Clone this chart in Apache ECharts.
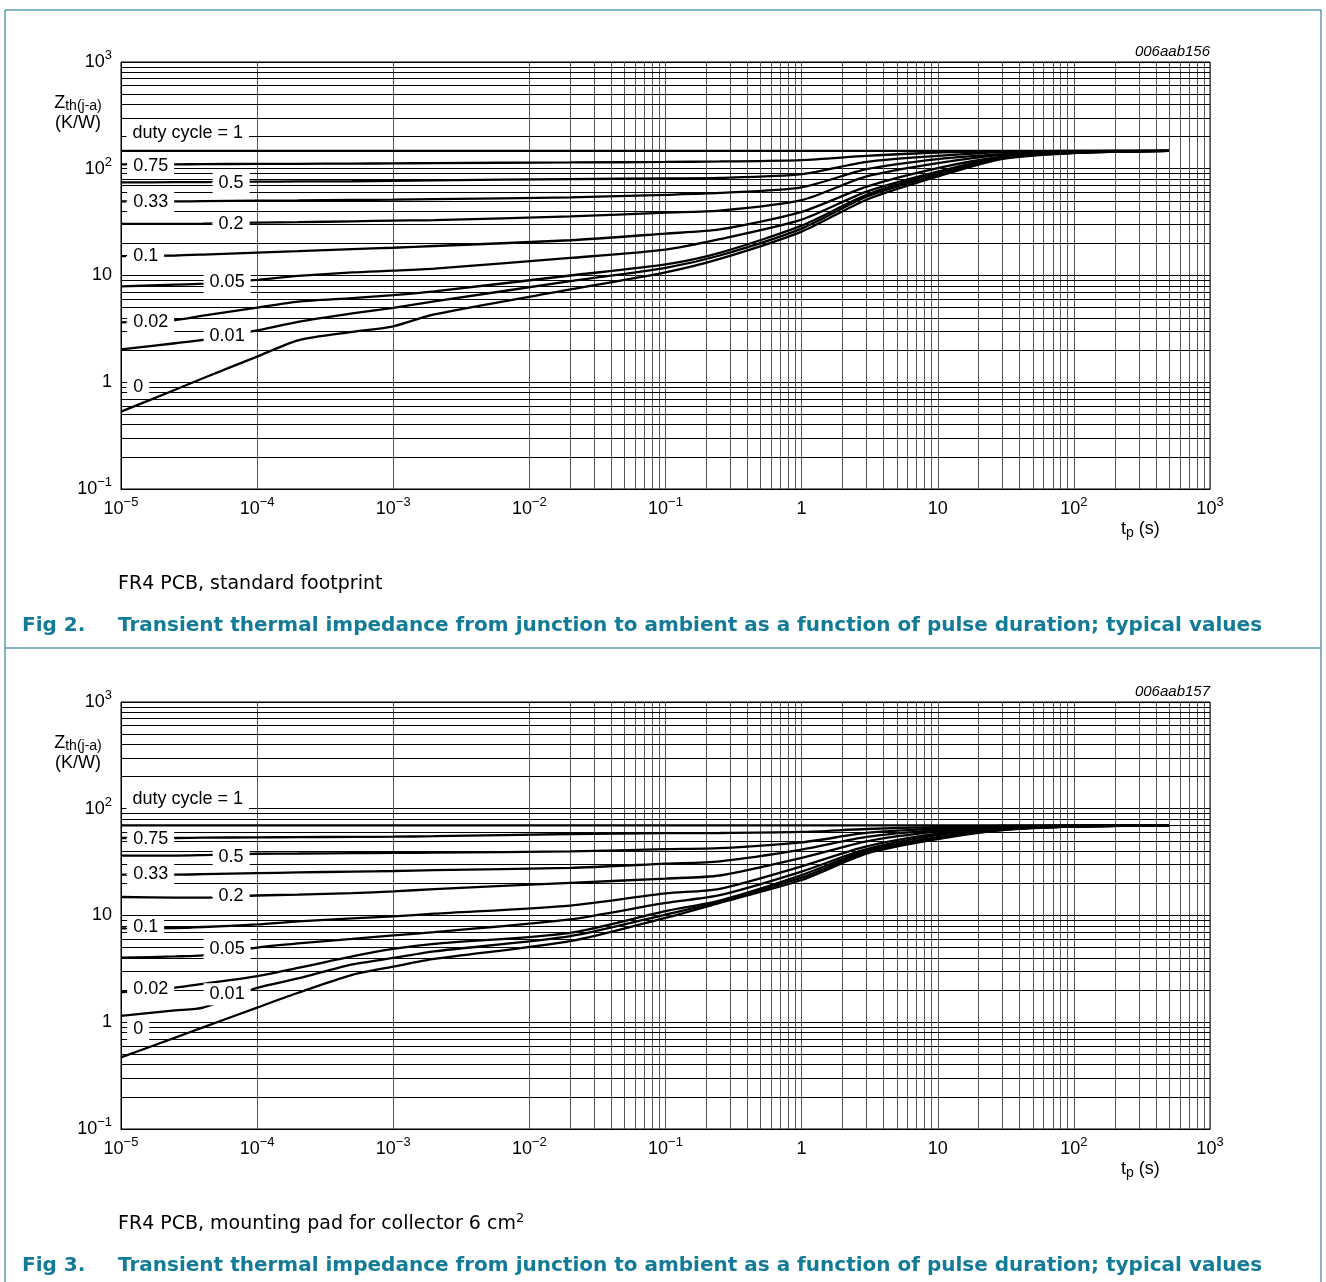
<!DOCTYPE html>
<html>
<head>
<meta charset="utf-8">
<title>Transient thermal impedance</title>
<script src="https://cdn.jsdelivr.net/npm/echarts@6/dist/echarts.min.js"></script>
<style>
  html, body { margin: 0; padding: 0; background: #fff; }
  #main { width: 1326px; height: 1282px; }
</style>
</head>
<body>
<div id="main"></div>
<script>
// pulse duration tp (s) where the curves were read
var tp = [1e-5, 2.5e-5, 4e-5, 1e-4, 2e-4, 5e-4, 1e-3, 2e-3, 2e-2, 1e-1, 0.25, 1, 3, 10, 30, 100, 500];

var dutyCycles = ['1', '0.75', '0.5', '0.33', '0.2', '0.1', '0.05', '0.02', '0.01', '0'];

// decades shown on the axes (tick labels are 10^n)
var xDecades = [-5, -4, -3, -2, -1, 0, 1, 2, 3];
var yDecades = [-1, 0, 1, 2, 3];

// Fig 2 - FR4 PCB, standard footprint: Zth(j-a) in K/W
var fig2_100 = [147, 147, 147, 147, 147, 147, 147, 147, 147, 147, 147, 147, 147, 147, 147, 147, 147];
var fig2_075 = [110, 110, 110.5, 111, 111.3, 111.8, 112.2, 113, 114.5, 115.8, 117, 120.5, 132, 142, 145.5, 147, 147];
var fig2_050 = [74.5, 74.8, 75, 75.6, 76, 76.4, 76.9, 77.8, 80, 81.2, 82, 89, 116, 132, 143, 146.5, 147];
var fig2_033 = [49.5, 49.5, 49.7, 50.2, 50.5, 51.1, 51.3, 51.9, 53.9, 57, 59.3, 67, 99, 123, 137, 145.5, 147];
var fig2_020 = [30.4, 30.4, 30.6, 31.3, 31.6, 32.2, 32.7, 33, 35.8, 38.8, 40.5, 50.8, 84.7, 113, 135, 144, 147];
var fig2_010 = [15.2, 15.4, 15.7, 16.4, 16.9, 17.7, 18.2, 18.9, 21.4, 24.7, 27, 39.5, 68, 101.5, 129.5, 143, 147];
var fig2_005 = [7.9, 8.2, 8.4, 9.1, 9.9, 10.7, 11.1, 11.6, 14.6, 17.5, 21.9, 33.4, 61, 94, 128, 142, 147];
var fig2_002 = [3.64, 3.82, 4.2, 5.0, 5.7, 6.15, 6.55, 7.1, 10, 12.7, 16.3, 29.3, 57, 92, 127, 141, 147];
var fig2_001 = [2.03, 2.32, 2.49, 3.06, 3.68, 4.41, 4.97, 5.71, 8.85, 11.8, 15.4, 27.5, 54.7, 88, 125, 141, 147];
var fig2_000 = [0.53, 0.85, 1.09, 1.74, 2.47, 2.96, 3.34, 4.32, 7.4, 10.7, 14.3, 25.8, 51.3, 84.7, 124, 140.5, 147];

// Fig 3 - FR4 PCB, mounting pad for collector 6 cm2
var fig3_100 = [70, 70, 70, 70, 70, 70, 70, 70, 70, 70, 70, 70, 70, 70, 70, 70, 70];
var fig3_075 = [53.2, 53.2, 53.6, 53.9, 54.2, 54.5, 54.7, 55.3, 58, 59, 59.3, 60.6, 64.6, 67.4, 69, 69.8, 70];
var fig3_050 = [36.4, 36.4, 36.8, 37.9, 38.1, 38.4, 38.6, 38.8, 39.9, 41.8, 42.7, 48.4, 59.3, 65, 67.9, 69.4, 70];
var fig3_033 = [24.2, 24.2, 24.4, 24.9, 25.3, 25.8, 26.1, 26.6, 27.9, 30.6, 32.2, 41.4, 54.4, 63, 67, 69, 70];
var fig3_020 = [14.9, 14.7, 14.7, 15.4, 15.7, 16.2, 16.8, 17.7, 20.2, 22.2, 23.7, 34.6, 49.5, 61, 66.4, 69, 70];
var fig3_010 = [7.56, 7.64, 7.8, 8.25, 8.8, 9.4, 9.8, 10.4, 12.4, 16.1, 17.8, 28.9, 44.4, 58.4, 65.7, 68.6, 70];
var fig3_005 = [4.02, 4.14, 4.23, 5.0, 5.47, 6.03, 6.5, 7.0, 9.2, 13.1, 15.5, 25.8, 41.8, 56.5, 65, 68.3, 70];
var fig3_002 = [1.91, 2.11, 2.29, 2.71, 3.23, 4.14, 4.86, 5.42, 6.89, 11, 13.8, 23.9, 40.5, 54.2, 64.3, 68.2, 70];
var fig3_001 = [1.15, 1.29, 1.37, 2.1, 2.57, 3.48, 4.0, 4.61, 6.41, 10.2, 13.5, 22.6, 39.2, 53, 63.6, 68, 70];
var fig3_000 = [0.468, 0.718, 0.896, 1.37, 1.89, 2.78, 3.32, 3.92, 5.75, 9.51, 13.1, 21.5, 38, 51.9, 63, 67.9, 70];

var fig2Curves = [fig2_100, fig2_075, fig2_050, fig2_033, fig2_020, fig2_010, fig2_005, fig2_002, fig2_001, fig2_000];
var fig3Curves = [fig3_100, fig3_075, fig3_050, fig3_033, fig3_020, fig3_010, fig3_005, fig3_002, fig3_001, fig3_000];

// where the duty cycle tags sit (left edge of the white box, in tp / Zth)
var fig2Tags = [[1.088e-5, 217], [1.1e-5, 106.7], [4.67e-5, 74], [1.1e-5, 49.2], [4.67e-5, 30.6],
                [1.1e-5, 15.1], [4.01e-5, 8.6], [1.1e-5, 3.64], [4.01e-5, 2.69], [1.1e-5, 0.9]];
var fig3Tags = [[1.088e-5, 124], [1.1e-5, 52.4], [4.67e-5, 35.6], [1.1e-5, 24.2], [4.67e-5, 15.1],
                [1.1e-5, 7.72], [4.01e-5, 4.81], [1.1e-5, 2.03], [4.01e-5, 1.83], [1.1e-5, 0.86]];

var FONT = '"Liberation Sans", Arial, sans-serif';
var CAPFONT = '"DejaVu Sans", sans-serif';
var TEAL = '#127b97';

function decadeLabel(v) {
    var e = Math.round(Math.log10(v));
    if (e === 0) return '1';
    if (e === 1) return '10';
    return '10{sup|' + (e < 0 ? '\u2212' + (-e) : e) + '}';
}

function minorValues(fromExp, toExp) {
    var out = [];
    for (var e = fromExp; e < toExp; e++) {
        for (var m = 2; m <= 9; m++) out.push(m * Math.pow(10, e));
    }
    return out;
}

var axisLabelStyle = {
    color: '#000',
    fontFamily: FONT,
    fontSize: 18,
    lineHeight: 26,
    formatter: decadeLabel,
    rich: {
        sup: {fontFamily: FONT, fontSize: 13, lineHeight: 13, verticalAlign: 'top', color: '#000'}
    }
};

var grids = [], xAxes = [], yAxes = [], series = [];

function addFigure(idx, top, curves, tags) {
    grids.push({
        left: 121, top: top, width: 1089, height: 427,
        show: true, borderColor: '#000', borderWidth: 1, backgroundColor: '#fff'
    });
    xAxes.push({
        type: 'log', logBase: 10, gridIndex: idx,
        min: Math.pow(10, xDecades[0]), max: Math.pow(10, xDecades[xDecades.length - 1]),
        axisLine: {show: true, lineStyle: {color: '#000', width: 1}},
        axisTick: {show: false},
        splitLine: {show: true, lineStyle: {color: '#555', width: 1}},
        axisLabel: Object.assign({margin: 7}, axisLabelStyle)
    });
    yAxes.push({
        type: 'log', logBase: 10, gridIndex: idx,
        min: Math.pow(10, yDecades[0]), max: Math.pow(10, yDecades[yDecades.length - 1]),
        axisLine: {show: true, lineStyle: {color: '#000', width: 1}},
        axisTick: {show: false},
        splitLine: {show: true, lineStyle: {color: '#000', width: 1}},
        axisLabel: Object.assign({margin: 9}, axisLabelStyle)
    });

    // minor grid: 2..9 in every decade
    var gridLines = [];
    minorValues(xDecades[0], xDecades[xDecades.length - 1]).forEach(function (v) {
        gridLines.push({xAxis: v, lineStyle: {color: '#555', width: 1, type: 'solid'}});
    });
    minorValues(yDecades[0], yDecades[yDecades.length - 1]).forEach(function (v) {
        gridLines.push({yAxis: v, lineStyle: {color: '#000', width: 1, type: 'solid'}});
    });
    series.push({
        type: 'line', xAxisIndex: idx, yAxisIndex: idx, data: [], silent: true, z: 1,
        markLine: {silent: true, z: 1, symbol: ['none', 'none'], label: {show: false},
                   emphasis: {disabled: true}, animation: false, data: gridLines}
    });

    curves.forEach(function (vals, i) {
        series.push({
            name: dutyCycles[i], type: 'line', xAxisIndex: idx, yAxisIndex: idx, z: 4,
            showSymbol: false, smooth: 0.25, silent: true,
            lineStyle: {color: '#000', width: 2.3},
            data: tp.map(function (t, k) { return [t, vals[k]]; })
        });
    });

    series.push({
        type: 'scatter', xAxisIndex: idx, yAxisIndex: idx, z: 8, silent: true,
        symbol: 'rect', symbolSize: 1, itemStyle: {color: '#fff', opacity: 1},
        emphasis: {disabled: true},
        label: {
            show: true, position: 'right', distance: 0, formatter: '{b}',
            backgroundColor: '#fff', padding: [2, 6, 2, 6], opacity: 1,
            color: '#000', fontFamily: FONT, fontSize: 18, textBorderWidth: 0
        },
        data: tags.map(function (p, i) {
            return {name: i === 0 ? 'duty cycle = 1' : dutyCycles[i], value: p};
        })
    });
}

addFigure(0, 62, fig2Curves, fig2Tags);
addFigure(1, 702, fig3Curves, fig3Tags);

function txt(x, y, text, font, opts) {
    var o = opts || {};
    return {
        type: 'text', x: x, y: y, silent: true, z: 20,
        style: {
            text: text, font: font, fill: o.fill || '#000',
            textAlign: o.align || 'left', align: o.align || 'left',
            textVerticalAlign: o.valign || 'middle', verticalAlign: o.valign || 'middle',
            rich: o.rich
        }
    };
}

var nameRich = {
    z: {fontFamily: FONT, fontSize: 18, lineHeight: 20, verticalAlign: 'middle'},
    s: {fontFamily: FONT, fontSize: 14, lineHeight: 12, verticalAlign: 'bottom'},
    u: {fontFamily: FONT, fontSize: 18, lineHeight: 20}
};
var tpRich = {
    t: {fontFamily: FONT, fontSize: 18, lineHeight: 22, verticalAlign: 'middle'},
    s: {fontFamily: FONT, fontSize: 14, lineHeight: 12, verticalAlign: 'bottom'}
};
var capRich = {
    c: {fontFamily: CAPFONT, fontSize: 19, lineHeight: 24, verticalAlign: 'middle'},
    sup: {fontFamily: CAPFONT, fontSize: 13, lineHeight: 12, verticalAlign: 'top'}
};

var graphics = [
    // frame
    {type: 'line', silent: true, shape: {x1: 5, y1: 10, x2: 1321, y2: 10}, style: {stroke: '#5b9bb0', lineWidth: 1.5}},
    {type: 'line', silent: true, shape: {x1: 5, y1: 10, x2: 5, y2: 1282}, style: {stroke: '#5b9bb0', lineWidth: 1.5}},
    {type: 'line', silent: true, shape: {x1: 1321, y1: 10, x2: 1321, y2: 1282}, style: {stroke: '#5b9bb0', lineWidth: 1.5}},
    {type: 'line', silent: true, shape: {x1: 5, y1: 648, x2: 1321, y2: 648}, style: {stroke: '#5b9bb0', lineWidth: 1.5}}
];

[{dy: 0, code: '006aab156', cap: '{c|FR4 PCB, standard footprint}', fig: 'Fig 2.'},
 {dy: 640, code: '006aab157', cap: '{c|FR4 PCB, mounting pad for collector 6 cm}{sup|2}', fig: 'Fig 3.'}
].forEach(function (f) {
    graphics.push(txt(1210, 52 + f.dy, f.code, 'italic 15px ' + FONT, {align: 'right'}));
    graphics.push(txt(78, 93 + f.dy, '{z|Z}{s|th(j-a)}\n{u|(K/W)}', '18px ' + FONT,
        {align: 'center', valign: 'top', rich: nameRich}));
    graphics.push(txt(1121, 529 + f.dy, '{t|t}{s|p}{t| (s)}', '18px ' + FONT, {rich: tpRich}));
    graphics.push(txt(118, 584 + f.dy, f.cap, '19px ' + CAPFONT, {rich: capRich}));
    graphics.push(txt(22, 626 + f.dy, f.fig, 'bold 20px ' + CAPFONT, {fill: TEAL}));
    graphics.push(txt(118, 626 + f.dy,
        'Transient thermal impedance from junction to ambient as a function of pulse duration; typical values',
        'bold 20px ' + CAPFONT, {fill: TEAL}));
});

var myChart = echarts.init(document.getElementById('main'), null, {renderer: 'canvas'});
myChart.setOption({
    backgroundColor: '#fff',
    animation: false,
    grid: grids,
    xAxis: xAxes,
    yAxis: yAxes,
    series: series,
    graphic: graphics
});
</script>
</body>
</html>
